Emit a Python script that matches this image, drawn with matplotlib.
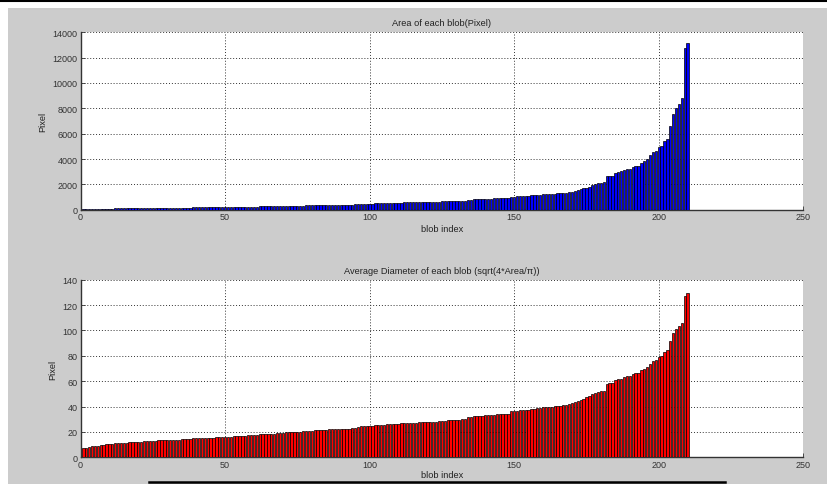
import numpy as np
import matplotlib
matplotlib.use("Agg")
import matplotlib.pyplot as plt
from matplotlib.patches import Rectangle
from matplotlib.lines import Line2D

plt.rcParams['font.family'] = ['Liberation Sans', 'DejaVu Sans']

# Average diameter of each blob, blob index 1..210
diameter = [
    7.0, 7.1, 8.4, 8.7, 8.9, 9.3, 9.6, 9.8, 10.3, 10.5,
    10.7, 11.0, 11.2, 11.4, 11.5, 11.6, 11.7, 11.8, 12.0, 12.2,
    12.3, 12.5, 12.6, 12.9, 13.1, 13.2, 13.3, 13.4, 13.6, 13.8,
    13.9, 13.9, 14.0, 14.0, 14.1, 14.1, 14.2, 14.7, 15.0, 15.2,
    15.2, 15.3, 15.4, 15.4, 15.5, 15.6, 15.8, 16.0, 16.0, 16.1,
    16.2, 16.3, 16.5, 16.6, 16.7, 16.8, 17.1, 17.3, 17.5, 17.7,
    17.9, 18.1, 18.2, 18.3, 18.4, 18.5, 18.6, 18.9, 19.2, 19.5,
    19.7, 19.8, 19.9, 20.0, 20.1, 20.2, 20.4, 20.6, 20.8, 21.0,
    21.2, 21.4, 21.7, 21.8, 21.9, 22.0, 22.1, 22.2, 22.3, 22.4,
    22.5, 22.6, 22.7, 22.8, 23.2, 23.8, 24.5, 24.6, 24.7, 24.8,
    24.9, 25.1, 25.3, 25.5, 25.7, 25.9, 26.1, 26.3, 26.5, 26.6,
    26.7, 26.9, 27.1, 27.2, 27.3, 27.4, 27.5, 27.6, 27.7, 27.8,
    27.8, 28.0, 28.2, 28.5, 28.8, 29.0, 29.1, 29.3, 29.4, 29.5,
    29.7, 29.8, 29.9, 31.8, 32.0, 32.2, 32.5, 32.7, 32.8, 33.0,
    33.2, 33.4, 33.6, 33.8, 34.0, 34.2, 34.4, 34.5, 36.2, 36.4,
    36.6, 37.0, 37.1, 37.3, 37.5, 37.8, 38.3, 38.6, 39.0, 39.4,
    39.6, 39.7, 39.9, 40.1, 40.4, 40.8, 41.2, 41.4, 42.0, 42.7,
    43.5, 44.3, 45.2, 46.2, 47.2, 48.0, 50.0, 50.9, 51.4, 52.0,
    52.4, 58.0, 58.2, 58.6, 61.0, 61.4, 62.0, 63.5, 64.0, 64.3,
    65.5, 66.1, 66.5, 68.7, 70.0, 71.3, 73.9, 76.0, 76.8, 79.2,
    80.0, 82.8, 84.4, 91.5, 98.1, 101.2, 103.3, 106.0, 127.5, 129.5,
]
blob_index = list(range(1, len(diameter) + 1))
# Area (pixels) consistent with d = sqrt(4*Area/pi)
area = [np.pi * d * d / 4.0 for d in diameter]

x_ticks = [0, 50, 100, 150, 200, 250]
area_ticks = [0, 2000, 4000, 6000, 8000, 10000, 12000, 14000]
diam_ticks = [0, 20, 40, 60, 80, 100, 120, 140]

W, H = 827, 485
fig = plt.figure(figsize=(W / 100, H / 100), dpi=100)
fig.patch.set_facecolor('white')
# grey figure panel (screenshot look)
fig.patches.append(Rectangle((8 / W, 0), 1 - 8 / W, 1 - 9 / H, transform=fig.transFigure,
                             facecolor='#cccccc', edgecolor='none', zorder=-10))
fig.lines.append(Line2D([0, 1], [1 - 1.5 / H, 1 - 1.5 / H], transform=fig.transFigure,
                        color='black', linewidth=1.5))
fig.lines.append(Line2D([149 / W, 725 / W], [1 - 482.5 / H, 1 - 482.5 / H], transform=fig.transFigure,
                        color='black', linewidth=1.8))

L = 80.5 / W
Wd = (803.3 - 80.5) / W
ax1 = fig.add_axes([L, 1 - 210.7 / H, Wd, (210.7 - 33.3) / H])
ax2 = fig.add_axes([L, 1 - 458.3 / H, Wd, (458.3 - 280.7) / H])

def style(ax, yticks):
    ax.set_facecolor('white')
    ax.set_xlim(0, 250)
    ax.set_ylim(yticks[0], yticks[-1])
    ax.set_xticks(x_ticks)
    ax.set_yticks(yticks)
    ax.set_xticklabels([str(t) for t in x_ticks])
    ax.set_yticklabels([str(t) for t in yticks])
    for s in ['top', 'right']:
        ax.spines[s].set_visible(False)
    for s in ['left', 'bottom']:
        ax.spines[s].set_color('#333333')
        ax.spines[s].set_linewidth(1.0)
    ax.tick_params(direction='in', length=3, width=0.6, colors='#333333',
                   labelsize=6.5, pad=2)
    ax.grid(True, linestyle=(0, (1, 2)), color='#333333', linewidth=0.7)
    ax.set_axisbelow(True)

ax1.bar(blob_index, area, width=0.8, color='#0000ff', edgecolor='black', linewidth=0.5, zorder=3)
style(ax1, area_ticks)
ax1.set_title('Area of each blob(Pixel)', fontsize=6.7, color='#222222', pad=5)
ax1.set_xlabel('blob index', fontsize=6.7, color='#222222', labelpad=2)
ax1.set_ylabel('Pixel', fontsize=6.7, color='#222222', labelpad=4)

ax2.bar(blob_index, [float(np.sqrt(4 * a / np.pi)) for a in area], width=0.8, color='#ff0000',
        edgecolor='black', linewidth=0.5, zorder=3)
style(ax2, diam_ticks)
ax2.set_title('Average Diameter of each blob (sqrt(4*Area/\u03c0))', fontsize=6.7, color='#222222', pad=5)
ax2.set_xlabel('blob index', fontsize=6.7, color='#222222', labelpad=1)
ax2.set_ylabel('Pixel', fontsize=6.7, color='#222222', labelpad=4)

fig.savefig('out.png', dpi=100, facecolor=fig.get_facecolor())
